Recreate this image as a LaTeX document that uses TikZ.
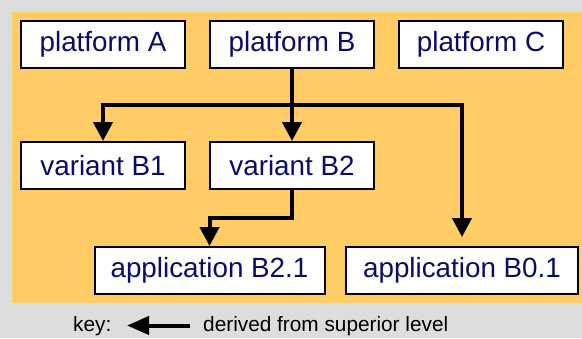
\documentclass[tikz,border=0pt]{standalone}
\usepackage{fontspec}
\setmainfont{Liberation Sans}
\usetikzlibrary{arrows.meta}
\definecolor{bggray}{HTML}{DDDDDD}
\definecolor{panel}{HTML}{FFCC66}
\definecolor{labelblue}{RGB}{10,10,110}
\tikzset{
  boxnode/.style={draw=black, line width=2pt, fill=white, inner sep=0pt,
    minimum height=47pt, text=labelblue,
    font=\fontsize{27.8}{32}\selectfont},
  derive/.style={line width=4pt, -{Triangle[width=19pt,length=19pt]}},
}
\begin{document}
\begin{tikzpicture}[x=1pt,y=-1pt]
  \useasboundingbox (0,0) rectangle (582,338);
  \fill[bggray] (0,0) rectangle (582,338);
  \fill[panel] (12,12) rectangle (582,303);

  % top level: platforms
  \node[boxnode, minimum width=164pt] (pA) at (103,44.5) {platform A};
  \node[boxnode, minimum width=164pt] (pB) at (292,44.5) {platform B};
  \node[boxnode, minimum width=164pt] (pC) at (481,44.5) {platform C};

  % middle level: variants
  \node[boxnode, minimum width=164pt] (vB1) at (103,165.5) {variant B1};
  \node[boxnode, minimum width=164pt] (vB2) at (292,165.5) {variant B2};

  % bottom level: applications
  \node[boxnode, minimum width=230pt] (aB21) at (209.5,270.5) {application B2.1};
  \node[boxnode, minimum width=232pt] (aB01) at (462,270.5) {application B0.1};

  % derivation connectors
  \coordinate (split) at (292,105);
  \coordinate (bend) at (292,218);
  \draw[derive] (pB.south) -- (vB2.north);
  \draw[derive] (split) -| (vB1.north);
  \draw[derive, shorten >=9pt] (split) -| (aB01.north);
  \draw[derive] (vB2.south) -- (bend) -| (aB21.north);

  % legend
  \node[anchor=west, inner sep=0pt, font=\fontsize{20.8}{24}\selectfont] (keylbl) at (73,326) {key:};
  \coordinate (keytail) at (190,325.5);
  \coordinate (keytip) at (127,325.5);
  \draw[line width=4pt, -{Triangle[width=18pt,length=22pt]}] (keytail) -- (keytip);
  \node[anchor=west, inner sep=0pt, font=\fontsize{20.8}{24}\selectfont] (keytxt) at (203,326) {derived from superior level};
\end{tikzpicture}
\end{document}
